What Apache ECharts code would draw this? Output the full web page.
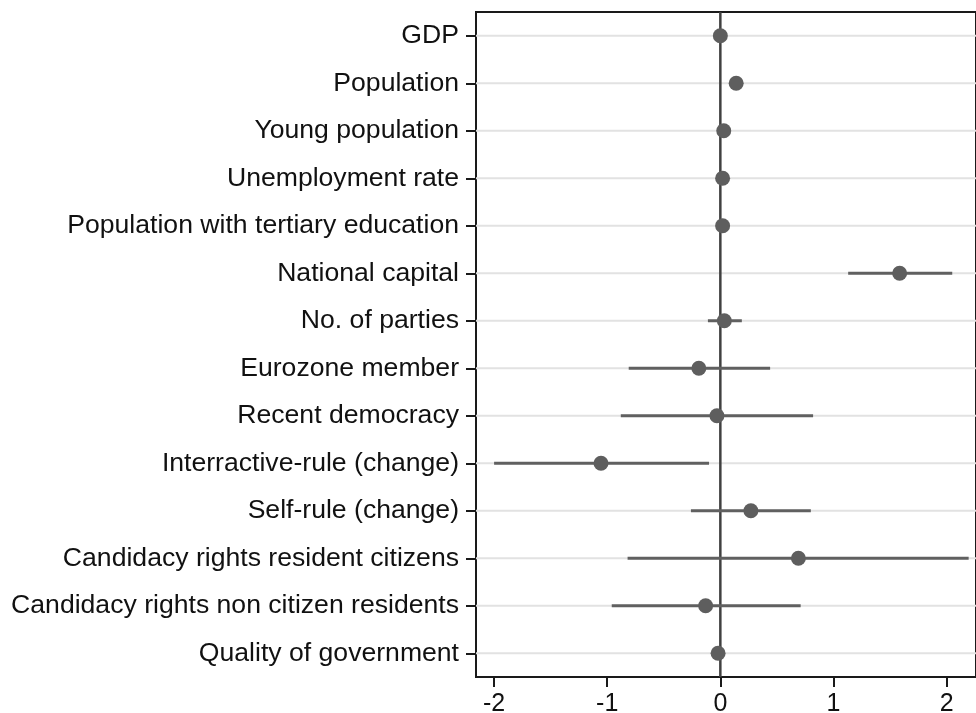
<!DOCTYPE html>
<html>
<head>
<meta charset="utf-8">
<script src="https://cdn.jsdelivr.net/npm/echarts@6/dist/echarts.min.js"></script>
<style>
  html, body { margin: 0; padding: 0; background: #fff; }
  #chart { width: 976px; height: 713px; }
</style>
</head>
<body>
<div id="chart"></div>
<script>
const variables = [
  "GDP",
  "Population",
  "Young population",
  "Unemployment rate",
  "Population with tertiary education",
  "National capital",
  "No. of parties",
  "Eurozone member",
  "Recent democracy",
  "Interractive-rule (change)",
  "Self-rule (change)",
  "Candidacy rights resident citizens",
  "Candidacy rights non citizen residents",
  "Quality of government",
];
const estimates = [0.0, 0.14, 0.03, 0.02, 0.02, 1.585, 0.035, -0.19, -0.03, -1.055, 0.27, 0.69, -0.13, -0.02];
const lower = [-0.01, 0.12, 0.01, 0.0, 0.0, 1.13, -0.11, -0.81, -0.88, -2.0, -0.26, -0.82, -0.96, -0.04];
const upper = [0.01, 0.16, 0.05, 0.04, 0.04, 2.05, 0.19, 0.44, 0.82, -0.1, 0.8, 2.195, 0.71, 0.0];
const xTicks = [-2, -1, 0, 1, 2];

const rows = variables.map((name, i) => [estimates[i], i, lower[i], upper[i]]);

const chart = echarts.init(document.getElementById("chart"), null, { renderer: "canvas" });

chart.setOption({
  backgroundColor: "#fff",
  animation: false,
  textStyle: { fontFamily: '"Liberation Sans", Arial, sans-serif' },
  grid: {
    left: 476,
    top: 12,
    right: 0,
    bottom: 36,
    outerBoundsMode: "none",
    containLabel: false,
    show: true,
    borderColor: "#1a1a1a",
    borderWidth: 2,
  },
  xAxis: {
    type: "value",
    min: -2.16,
    max: 2.26,
    axisLine: { show: true, onZero: false, lineStyle: { color: "#1a1a1a", width: 2 } },
    axisTick: { show: true, length: 10, customValues: xTicks, lineStyle: { color: "#1a1a1a", width: 2 } },
    axisLabel: { customValues: xTicks, fontSize: 25, color: "#111", margin: 15 },
    splitLine: { show: false },
  },
  yAxis: {
    type: "category",
    inverse: true,
    data: variables,
    axisLine: { show: true, onZero: false, lineStyle: { color: "#1a1a1a", width: 2 } },
    axisTick: { show: true, interval: 0, alignWithLabel: true, length: 10, lineStyle: { color: "#1a1a1a", width: 2 } },
    axisLabel: { interval: 0, fontSize: 26.6, color: "#111", margin: 17 },
    splitLine: { show: false },
  },
  series: [
    {
      // light row guides and the zero reference line
      type: "custom",
      z: 1,
      silent: true,
      data: rows,
      renderItem(params, api) {
        const cs = params.coordSys;
        const y = api.coord([0, api.value(1)])[1];
        const children = [
          {
            type: "line",
            z2: 0,
            shape: { x1: cs.x, y1: y, x2: cs.x + cs.width, y2: y },
            style: { stroke: "#e2e2e2", lineWidth: 2 },
          },
        ];
        if (params.dataIndex === 0) {
          const x0 = api.coord([0, 0])[0];
          children.push({
            type: "line",
            z2: 10,
            shape: { x1: x0, y1: cs.y, x2: x0, y2: cs.y + cs.height },
            style: { stroke: "#404040", lineWidth: 2.5 },
          });
        }
        return { type: "group", children };
      },
    },
    {
      // confidence intervals and point estimates
      type: "custom",
      z: 3,
      data: rows,
      renderItem(params, api) {
        const p = api.coord([api.value(0), api.value(1)]);
        const lo = api.coord([api.value(2), api.value(1)]);
        const hi = api.coord([api.value(3), api.value(1)]);
        return {
          type: "group",
          children: [
            {
              type: "line",
              shape: { x1: lo[0], y1: lo[1], x2: hi[0], y2: hi[1] },
              style: { stroke: "#606060", lineWidth: 3 },
            },
            {
              type: "circle",
              shape: { cx: p[0], cy: p[1], r: 7.5 },
              style: { fill: "#5e5e5e" },
            },
          ],
        };
      },
    },
  ],
});
</script>
</body>
</html>
